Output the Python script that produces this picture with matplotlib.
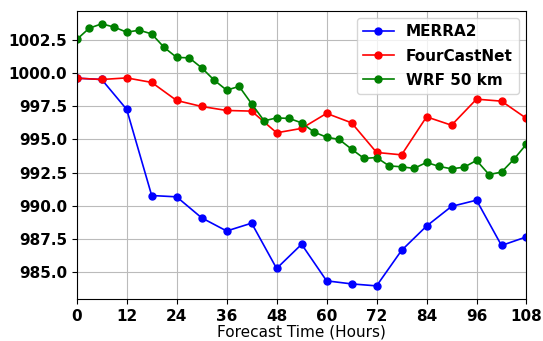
import matplotlib
matplotlib.use("Agg")
import matplotlib.pyplot as plt

# forecast hours
hours_6 = [0, 6, 12, 18, 24, 30, 36, 42, 48, 54, 60, 66, 72, 78, 84, 90, 96, 102, 108]
hours_3 = list(range(0, 109, 3))

merra2 = [999.6, 999.5, 997.25, 990.77, 990.67, 989.09, 988.1, 988.69, 985.28, 987.1,
          984.35, 984.12, 983.97, 986.64, 988.47, 989.95, 990.42, 987.01, 987.66]
fourcastnet = [999.6, 999.5, 999.62, 999.28, 997.92, 997.47, 997.17, 997.12, 995.49, 995.82,
               996.95, 996.24, 994.01, 993.83, 996.69, 996.06, 998.02, 997.87, 996.57]
wrf50 = [1002.51, 1003.36, 1003.69, 1003.44, 1003.06, 1003.21, 1002.93, 1001.91, 1001.16,
         1001.13, 1000.38, 999.45, 998.70, 998.98, 997.67, 996.39, 996.61, 996.57, 996.24,
         995.54, 995.16, 994.99, 994.26, 993.56, 993.63, 993.0, 992.93, 992.81, 993.26,
         992.96, 992.78, 992.90, 993.41, 992.35, 992.53, 993.51, 994.64]

xticks = [0, 12, 24, 36, 48, 60, 72, 84, 96, 108]

fig = plt.figure(figsize=(5.43, 3.41), dpi=100)
ax = fig.add_axes([0.1413, 0.1232, 0.8283, 0.8454])

ax.plot(hours_6, merra2, color="blue", marker="o", ms=5, lw=1.2, label="MERRA2")
ax.plot(hours_6, fourcastnet, color="red", marker="o", ms=5, lw=1.2, label="FourCastNet")
ax.plot(hours_3, wrf50, color="green", marker="o", ms=5, lw=1.2, label="WRF 50 km")

ax.set_xlim(0, 108)
ax.set_xticks(xticks)
ax.grid(color="#bbbbbb", lw=0.8)
ax.set_axisbelow(True)

for lab in ax.get_xticklabels() + ax.get_yticklabels():
    lab.set_fontweight("bold")
    lab.set_fontsize(11)

ax.set_xlabel("Forecast Time (Hours)", fontsize=11, labelpad=0.5)
ax.legend(loc="upper right", prop={"weight": "bold", "size": 11}, labelspacing=0.6)

fig.savefig("out.png", dpi=100)
